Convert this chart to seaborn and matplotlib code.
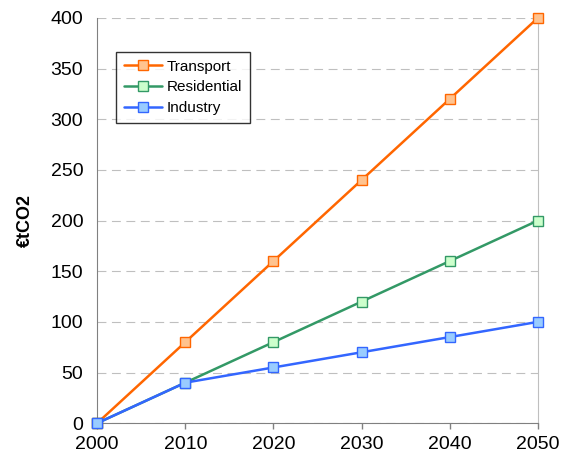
import matplotlib
matplotlib.use("Agg")
import matplotlib.pyplot as plt
import pandas as pd
import seaborn as sns

years = [2000, 2010, 2020, 2030, 2040, 2050]
transport = [0, 80, 160, 240, 320, 400]
residential = [0, 40, 80, 120, 160, 200]
industry = [0, 40, 55, 70, 85, 100]

series = {"Transport": transport, "Residential": residential, "Industry": industry}
line_colors = {"Transport": "#FF6600", "Residential": "#339966", "Industry": "#3366FF"}
face_colors = {"Transport": "#FFC38F", "Residential": "#CCFFCC", "Industry": "#99CCFF"}

sns.set_style("white")
plt.rcParams["font.family"] = ["Liberation Sans", "DejaVu Sans"]
plt.rcParams["text.color"] = "black"
plt.rcParams["xtick.color"] = "black"
plt.rcParams["ytick.color"] = "black"
plt.rcParams["axes.labelcolor"] = "black"

fig = plt.figure(figsize=(5.68, 4.59), dpi=100)
ax = fig.add_axes([0.171, 0.078, 0.776, 0.883])

for name, vals in series.items():
    df = pd.DataFrame({"year": years, "value": vals})
    sns.lineplot(data=df, x="year", y="value", ax=ax, color=line_colors[name],
                 linewidth=1.8, marker="s", markersize=7,
                 markerfacecolor=face_colors[name], markeredgecolor=line_colors[name],
                 markeredgewidth=1, label=name, clip_on=False, zorder=3)

ax.set_xlim(2000, 2050)
ax.set_ylim(0, 400)
ax.set_xticks(years)
ax.set_yticks(range(0, 401, 50))
ax.yaxis.grid(True, linestyle=(0, (8, 5)), color="#BFBFBF", linewidth=0.8)
ax.set_axisbelow(True)

ax.spines["top"].set_visible(False)
ax.spines["right"].set_color("#BFBFBF")
ax.spines["left"].set_color("#808080")
ax.spines["bottom"].set_color("#808080")
ax.tick_params(axis="x", direction="out", length=4, width=1, color="#808080",
               labelsize=14, pad=5, bottom=True, labelcolor="black")
ax.tick_params(axis="y", length=0, labelsize=14, pad=10, labelcolor="black")

ax.set_xlabel("")
ax.set_ylabel("€tCO2", fontsize=13, fontweight="bold", labelpad=12)

leg = ax.legend(loc="upper left", bbox_to_anchor=(0.043, 0.916), borderaxespad=0,
                fontsize=11, frameon=True, fancybox=False, edgecolor="black",
                handlelength=2.5, borderpad=0.5, labelspacing=0.45, handletextpad=0.3)
leg.get_frame().set_linewidth(1)

fig.savefig("out.png", dpi=100)
